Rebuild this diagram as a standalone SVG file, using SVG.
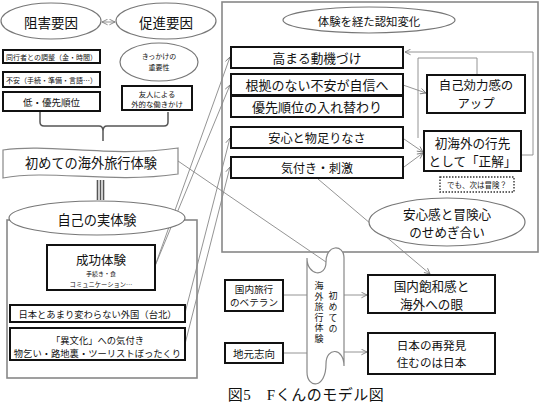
<svg xmlns="http://www.w3.org/2000/svg" width="541" height="408" viewBox="0 0 541 408">
<defs>
<marker id="a" viewBox="0 0 10 10" refX="9" refY="5" markerWidth="7" markerHeight="7" orient="auto-start-reverse" markerUnits="userSpaceOnUse"><path d="M1,1 L9,5 L1,9" fill="none" stroke="#777" stroke-width="1.2"/></marker>
</defs>
<style>
text{font-family:"Noto Sans CJK JP","Noto Sans CJK SC",sans-serif;fill:#111;text-anchor:middle;dominant-baseline:central}
.box{fill:#fff;stroke:#111;stroke-width:2}
.ell{fill:#fff;stroke:#777;stroke-width:1.2}
.cont{fill:none;stroke:#888;stroke-width:1.6}
.ban{fill:#fff;stroke:#888;stroke-width:1.2}
.c{fill:none;stroke:#888;stroke-width:0.9}
.ca{fill:none;stroke:#888;stroke-width:0.9;marker-end:url(#a)}
.br{fill:none;stroke:#555;stroke-width:1.5}
.v{writing-mode:vertical-rl;font-size:9px}
</style>
<rect width="541" height="408" fill="#fff"/>
<g id="containers">
<rect id="n-jitai-frame" class="cont" x="7" y="220" width="190" height="158"/>
<rect id="n-ninchi-frame" class="cont" x="222" y="2" width="316" height="250"/>
</g>
<g id="connectors">
<line class="c" x1="102" y1="22" x2="115" y2="22" marker-start="url(#a)" marker-end="url(#a)"/>
<line class="ca" x1="155" y1="266" x2="230" y2="57"/>
<line class="ca" x1="155" y1="266" x2="230" y2="85"/>
<line class="ca" x1="185" y1="313" x2="230" y2="138"/>
<line class="ca" x1="185" y1="344" x2="230" y2="167"/>
<line class="ca" x1="403" y1="85" x2="426" y2="93"/>
<line class="ca" x1="404" y1="139" x2="423" y2="152"/>
<line class="ca" x1="404" y1="167" x2="423" y2="153"/>
<polyline class="c" points="418,138 418,58 477,58 477,75"/>
<polyline class="ca" points="521,155 533,155 533,52 405,52"/>
<line class="c" x1="178" y1="161" x2="326" y2="262"/>
<line class="ca" x1="318" y1="179" x2="430" y2="274"/>
<line class="c" x1="283" y1="295" x2="308" y2="295"/>
<line class="ca" x1="344" y1="295" x2="367" y2="295"/>
<line class="c" x1="283" y1="353" x2="308" y2="353"/>
<line class="ca" x1="344" y1="352" x2="367" y2="352"/>
<path class="br" d="M40,112 L40,122 Q40,126 44,126 L99,126 Q103,126 103,131 L103,141 M103,131 Q103,126 107,126 L164,126 Q168,126 168,122 L168,112"/>
<g stroke="#555" stroke-width="1.6"><line x1="97.5" y1="180" x2="97.5" y2="200"/><line x1="100.5" y1="180" x2="100.5" y2="200"/><line x1="103.5" y1="180" x2="103.5" y2="200"/></g>
</g>
<g id="n-sogai"><ellipse class="ell" cx="51" cy="21" rx="50" ry="18"/><text x="51" y="22" font-size="13.5">阻害要因</text></g>
<g id="n-sokushin"><ellipse class="ell" cx="166" cy="21" rx="50" ry="18"/><text x="166" y="22" font-size="13.5">促進要因</text></g>
<g id="n-dokosha"><rect class="box" x="3" y="50" width="97" height="13"/><text x="51.5" y="56.5" font-size="7">同行者との調整（金・時間）</text></g>
<g id="n-fuan"><rect class="box" x="3" y="72" width="97" height="15"/><text x="51.5" y="79.5" font-size="7">不安（手続・準備・言語…）</text></g>
<g id="n-tei"><rect class="box" x="3" y="92" width="97" height="19"/><text x="51.5" y="101.5" font-size="9.5">低・優先順位</text></g>
<g id="n-kikkake"><ellipse class="ell" cx="159" cy="62" rx="39" ry="19"/><text x="159" y="56" font-size="7">きっかけの</text><text x="159" y="67" font-size="7">重要性</text></g>
<g id="n-yujin"><rect class="box" x="122" y="86" width="70" height="24"/><text x="157" y="93.5" font-size="7.4">友人による</text><text x="157" y="103.5" font-size="7.4">外的な働きかけ</text></g>
<g id="n-hajimete"><path class="ban" d="M3,150 C50,143 110,158 178,148 L178,174 C110,184 50,169 3,178 Z"/><text x="91" y="162" font-size="13.2">初めての海外旅行体験</text></g>
<g id="n-jitai"><ellipse class="ell" cx="97" cy="218" rx="88" ry="17"/><text x="97" y="219" font-size="13.2">自己の実体験</text></g>
<g id="n-seiko"><rect class="box" x="47" y="245" width="108" height="45"/><text x="101" y="259" font-size="12.5">成功体験</text><text x="101" y="273" font-size="6">手続き・食</text><text x="101" y="284" font-size="6.3">コミュニケーション…</text></g>
<g id="n-nihon"><rect class="box" x="10" y="305" width="175" height="17"/><text x="97.5" y="313.5" font-size="9.3">日本とあまり変わらない外国（台北）</text></g>
<g id="n-ibunka"><rect class="box" x="10" y="328" width="175" height="32"/><text x="97.5" y="339.5" font-size="9.3">「異文化」への気付き</text><text x="97.5" y="353" font-size="9.3">物乞い・路地裏・ツーリストぼったくり</text></g>
<g id="n-ninchi"><ellipse class="ell" cx="369" cy="20" rx="86" ry="13"/><text x="369" y="21" font-size="11.4">体験を経た認知変化</text></g>
<g id="n-doki"><rect class="box" x="231" y="47" width="172" height="21"/><text x="317" y="57.5" font-size="12.7">高まる動機づけ</text></g>
<g id="n-konkyo"><rect class="box" x="231" y="74" width="172" height="21"/><text x="317" y="84.5" font-size="13">根拠のない不安が自信へ</text></g>
<g id="n-yusen"><rect class="box" x="231" y="96" width="172" height="21"/><text x="317" y="106.5" font-size="13">優先順位の入れ替わり</text></g>
<g id="n-jiko"><rect class="box" x="427" y="75" width="98" height="38"/><text x="476" y="85" font-size="12.4">自己効力感の</text><text x="476" y="103.3" font-size="12.4">アップ</text></g>
<g id="n-anshin"><rect class="box" x="231" y="127" width="172" height="21"/><text x="317" y="137.5" font-size="12.2">安心と物足りなさ</text></g>
<g id="n-kizuki"><rect class="box" x="231" y="157" width="172" height="21"/><text x="317" y="167.5" font-size="12">気付き・刺激</text></g>
<g id="n-seikai"><rect class="box" x="424" y="131" width="97" height="40"/><text x="472.5" y="142" font-size="12.6">初海外の行先</text><text x="472.5" y="160.5" font-size="12.6">として「正解」</text></g>
<g id="n-demo"><rect x="440" y="177" width="74" height="15" fill="#fff" stroke="#333" stroke-width="1.4" stroke-dasharray="1.5,1.5"/><text x="477" y="184.5" font-size="7.5">でも、次は冒険？</text></g>
<g id="n-semegi"><ellipse class="ell" cx="447" cy="222" rx="78" ry="24"/><text x="447" y="213" font-size="12.6">安心感と冒険心</text><text x="447" y="231.5" font-size="12.6">のせめぎ合い</text></g>
<g id="n-veteran"><rect class="box" x="225" y="280" width="58" height="31"/><text x="254" y="289" font-size="9.6">国内旅行</text><text x="254" y="302" font-size="9.6">のベテラン</text></g>
<g id="n-jimoto"><rect class="box" x="225" y="343" width="58" height="20"/><text x="254" y="353" font-size="10.5">地元志向</text></g>
<g id="n-hajimete2"><path class="ban" d="M307,372 L307,258 C307,276 326,278 326,262 C326,244 344,244 344,258 L344,366 C344,347 326,347 326,364 C326,389 307,389 307,372 Z"/>
<text class="v" x="333" y="313.5" letter-spacing="2">初めての</text>
<text class="v" x="319" y="313" letter-spacing="1.5">海外旅行体験</text></g>
<g id="n-howa"><rect class="box" x="368" y="275" width="127" height="38"/><text x="431.5" y="285" font-size="12.6">国内飽和感と</text><text x="431.5" y="303.5" font-size="12.6">海外への眼</text></g>
<g id="n-saihakken"><rect class="box" x="368" y="333" width="127" height="41"/><text x="431.5" y="345" font-size="11.6">日本の再発見</text><text x="431.5" y="362" font-size="11.6">住むのは日本</text></g>
<g id="caption"><text x="306" y="395" font-size="15" letter-spacing="0.5" style="font-family:'Liberation Serif','Noto Sans CJK JP',serif">図5　Fくんのモデル図</text></g>
</svg>
